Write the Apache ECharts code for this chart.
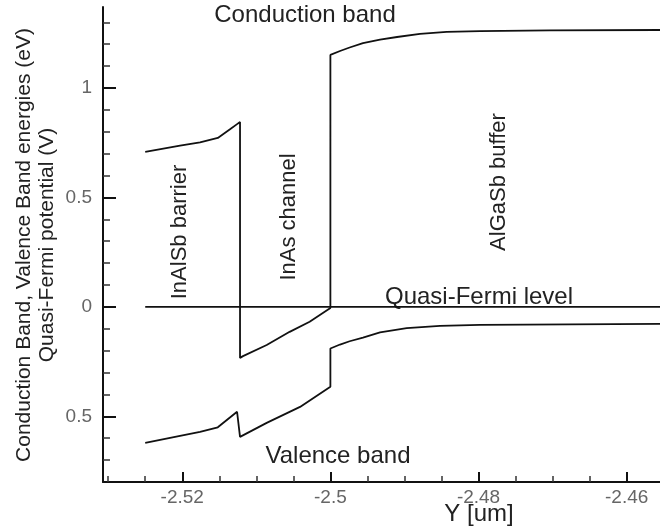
<!DOCTYPE html>
<html>
<head>
<meta charset="utf-8">
<script src="https://cdn.jsdelivr.net/npm/echarts@6/dist/echarts.min.js"></script>
<style>
    html, body { margin: 0; padding: 0; background: #fff; }
    #main { width: 660px; height: 527px; }
</style>
</head>
<body>
<div id="main"></div>
<script>
// 能带数据 [Y(um), 能量(eV)]
var conductionBand = [
    [-2.525, 0.708], [-2.5203, 0.737], [-2.5176, 0.752], [-2.5152, 0.772],
    [-2.5136, 0.81], [-2.5126, 0.835], [-2.5122, 0.845],
    [-2.5122, -0.233], [-2.5118, -0.225], [-2.5086, -0.174], [-2.5055, -0.114],
    [-2.5028, -0.068], [-2.5, -0.005],
    [-2.5, 1.151], [-2.4987, 1.169], [-2.4974, 1.185], [-2.4956, 1.205],
    [-2.4933, 1.221], [-2.491, 1.233], [-2.4879, 1.247], [-2.4843, 1.256],
    [-2.4798, 1.26], [-2.4704, 1.263], [-2.4555, 1.265]
];
var valenceBand = [
    [-2.525, -0.621], [-2.5203, -0.589], [-2.5176, -0.571], [-2.5152, -0.55],
    [-2.5126, -0.479], [-2.5122, -0.594], [-2.5086, -0.53], [-2.5041, -0.457],
    [-2.5, -0.365], [-2.5, -0.19], [-2.4987, -0.172], [-2.4974, -0.157],
    [-2.4956, -0.14], [-2.4933, -0.116], [-2.4897, -0.097], [-2.4852, -0.087],
    [-2.4798, -0.082], [-2.4555, -0.078]
];
var fermiLevel = [[-2.525, 0], [-2.4555, 0]];

var xTicks = [-2.52, -2.5, -2.48, -2.46];
var xMinorTicks = [-2.53, -2.525, -2.515, -2.51, -2.505, -2.495, -2.49, -2.485, -2.475, -2.47, -2.465];
var yTicks = [-0.5, 0, 0.5, 1];
var yTickLabels = ['0.5', '0', '0.5', '1'];
var yMinorTicks = [-0.7, -0.6, -0.4, -0.3, -0.2, -0.1, 0.1, 0.2, 0.3, 0.4, 0.6, 0.7, 0.8, 0.9, 1.1, 1.2, 1.3];

var fontName = 'Liberation Sans, Arial, sans-serif';

function bandChart(id){
    var myChart = echarts.init(document.getElementById(id));
    var lineStyle = { color: '#111', width: 1.8 };
    var option = {
        animation: false,
        grid: { left: 103, right: 0, top: 7, bottom: 45, containLabel: false },
        xAxis: [
            {
                type: 'value', min: -2.5307, max: -2.4555, position: 'bottom',
                axisLine: { show: true, onZero: false, lineStyle: { color: '#111', width: 2 } },
                axisTick: { show: true, inside: true, length: 10, customValues: xTicks, lineStyle: { color: '#111', width: 2 } },
                axisLabel: { customValues: xTicks, margin: 6, color: '#666', fontSize: 19, fontFamily: fontName },
                splitLine: { show: false }
            },
            {
                type: 'value', min: -2.5307, max: -2.4555, position: 'bottom',
                axisLine: { show: false, onZero: false },
                axisTick: { show: true, inside: true, length: 6, customValues: xMinorTicks, lineStyle: { color: '#333', width: 1.5 } },
                axisLabel: { show: false },
                splitLine: { show: false }
            }
        ],
        yAxis: [
            {
                type: 'value', min: -0.8, max: 1.37, position: 'left',
                axisLine: { show: true, onZero: false, lineStyle: { color: '#111', width: 2 } },
                axisTick: { show: true, inside: true, length: 13, customValues: yTicks, lineStyle: { color: '#111', width: 2 } },
                axisLabel: {
                    customValues: yTicks, margin: 11, color: '#666', fontSize: 19, fontFamily: fontName,
                    formatter: function(val){
                        var i = yTicks.indexOf(val);
                        return i >= 0 ? yTickLabels[i] : '';
                    }
                },
                splitLine: { show: false }
            },
            {
                type: 'value', min: -0.8, max: 1.37, position: 'left',
                axisLine: { show: false, onZero: false },
                axisTick: { show: true, inside: true, length: 7, customValues: yMinorTicks, lineStyle: { color: '#333', width: 1.5 } },
                axisLabel: { show: false },
                splitLine: { show: false }
            }
        ],
        series: [
            { name: 'Conduction band', type: 'line', data: conductionBand, showSymbol: false, lineStyle: lineStyle },
            { name: 'Valence band', type: 'line', data: valenceBand, showSymbol: false, lineStyle: lineStyle },
            { name: 'Quasi-Fermi level', type: 'line', data: fermiLevel, showSymbol: false, lineStyle: lineStyle }
        ],
        graphic: [
            { type: 'text', x: 305, y: 15, style: { text: 'Conduction band', font: '24px ' + fontName, fill: '#222', align: 'center', verticalAlign: 'middle' } },
            { type: 'text', x: 180, y: 232, rotation: Math.PI / 2, style: { text: 'InAlSb barrier', font: '22px ' + fontName, fill: '#222', align: 'center', verticalAlign: 'middle' } },
            { type: 'text', x: 289, y: 217, rotation: Math.PI / 2, style: { text: 'InAs channel', font: '22px ' + fontName, fill: '#222', align: 'center', verticalAlign: 'middle' } },
            { type: 'text', x: 499, y: 182, rotation: Math.PI / 2, style: { text: 'AlGaSb buffer', font: '22px ' + fontName, fill: '#222', align: 'center', verticalAlign: 'middle' } },
            { type: 'text', x: 479, y: 297, style: { text: 'Quasi-Fermi level', font: '24px ' + fontName, fill: '#222', align: 'center', verticalAlign: 'middle' } },
            { type: 'text', x: 338, y: 456, style: { text: 'Valence band', font: '24px ' + fontName, fill: '#222', align: 'center', verticalAlign: 'middle' } },
            { type: 'text', x: 479, y: 514, style: { text: 'Y [um]', font: '24px ' + fontName, fill: '#222', align: 'center', verticalAlign: 'middle' } },
            { type: 'text', x: 24, y: 245, rotation: Math.PI / 2, style: { text: 'Conduction Band, Valence Band energies (eV)', font: '21px ' + fontName, fill: '#222', align: 'center', verticalAlign: 'middle' } },
            { type: 'text', x: 47, y: 245, rotation: Math.PI / 2, style: { text: 'Quasi-Fermi potential (V)', font: '21px ' + fontName, fill: '#222', align: 'center', verticalAlign: 'middle' } }
        ]
    };

    myChart.setOption(option);

    return myChart;
}

bandChart('main');
</script>
</body>
</html>
